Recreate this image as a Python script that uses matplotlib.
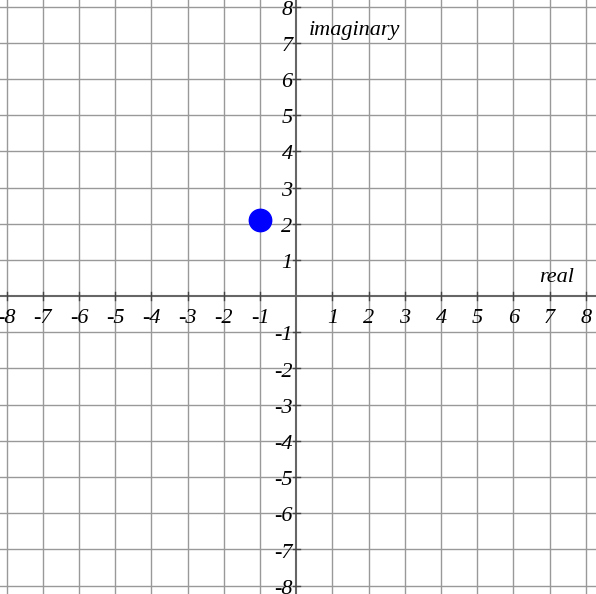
import matplotlib.pyplot as plt

ticks = [t for t in range(-8, 9) if t != 0]
point_re = [-1]
point_im = [2.1]

fig = plt.figure(figsize=(5.96, 5.94), dpi=100)
ax = fig.add_axes([0, 0, 1, 1])
ax.set_xlim(-8.18, 8.28)
ax.set_ylim(-8.23, 8.18)
ax.axis("off")

font = dict(family="Liberation Serif", style="italic", size=16)

for t in range(-8, 9):
    if t == 0:
        continue
    ax.axvline(t, color="#999999", lw=1, zorder=1)
    ax.axhline(t, color="#999999", lw=1, zorder=1)
ax.axvline(0, color="#666666", lw=1.5, zorder=2)
ax.axhline(0, color="#666666", lw=1.5, zorder=2)

for t in ticks:
    ax.plot([t, t], [-0.1, 0.1], color="#444444", lw=1, zorder=2)
    ax.plot([-0.1, 0.1], [t, t], color="#444444", lw=1, zorder=2)
    ax.text(t, -0.62, str(t), ha="center", va="center", **font)
    ax.text(-0.1, t - 0.1, str(t), ha="right", va="center", **font)

ax.text(0.35, 7.35, "imaginary", ha="left", va="center", **font)
ax.text(6.7, 0.5, "real", ha="left", va="center", **font)

ax.scatter(point_re, point_im, s=260, color="#0000ff", zorder=5)

fig.savefig("out.png", dpi=100)
